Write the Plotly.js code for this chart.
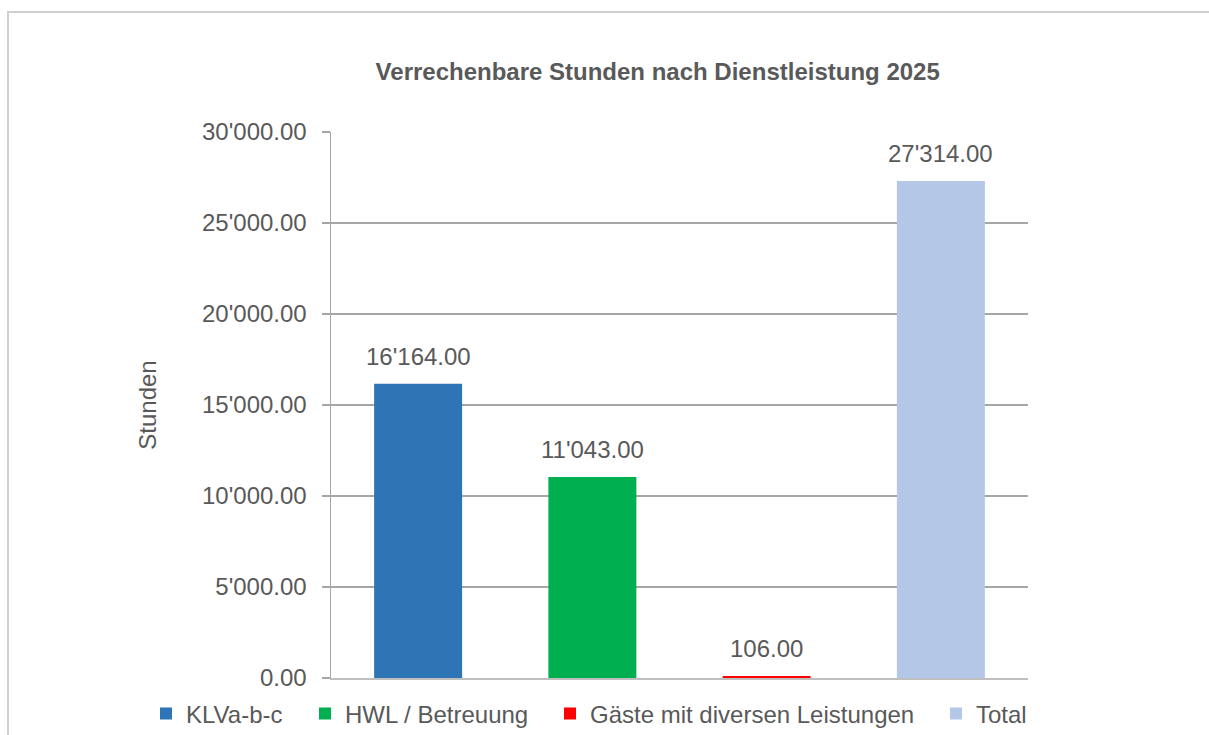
<!DOCTYPE html>
<html>
<head>
<meta charset="utf-8">
<script src="https://cdn.plot.ly/plotly-3.0.1.min.js"></script>
<style>
html,body{margin:0;padding:0;background:#fff;}
#frame{position:absolute;left:7px;top:11px;width:1202px;height:724px;border-left:2px solid #d0d0d0;border-top:2px solid #d0d0d0;box-sizing:border-box;}
#chart{position:absolute;left:0;top:0;width:1209px;height:735px;}
</style>
</head>
<body>
<div id="frame"></div>
<div id="chart"></div>
<script>
const categories = ["KLVa-b-c", "HWL / Betreuung", "Gäste mit diversen Leistungen", "Total"];
const values = [16164, 11043, 106, 27314];
const colors = ["#2E75B6", "#00B050", "#FF0000", "#B4C7E7"];
const titleText = "Verrechenbare Stunden nach Dienstleistung 2025";
const yTitle = "Stunden";

const FONT = "'Liberation Sans', Arial, sans-serif";
const GRAY = "#595959";
const legendX = [146, 305, 550, 936];   // container px of each legend box

const traces = categories.map((c, i) => ({
  type: "bar",
  name: c,
  x: [c],
  y: [values[i]],
  marker: {color: colors[i]},
  width: 0.505,
  cliponaxis: false,
  hoverinfo: "skip",
  legend: i === 0 ? "legend" : "legend" + (i + 1)
}));

const fmt = v => v.toLocaleString("de-CH", {minimumFractionDigits: 2, maximumFractionDigits: 2}).replace(/[’\u2019]/g, "'");

const annotations = categories.map((c, i) => ({
  x: c, y: values[i], xref: "x", yref: "y",
  text: fmt(values[i]),
  showarrow: false,
  xanchor: "center", yanchor: "bottom",
  yshift: 12,
  font: {family: FONT, size: 24, color: GRAY}
}));

const layout = {
  width: 1209,
  height: 735,
  margin: {l: 331, r: 181, t: 132, b: 57},
  paper_bgcolor: "rgba(0,0,0,0)",
  plot_bgcolor: "rgba(0,0,0,0)",
  separators: ".'",
  barmode: "overlay",
  showlegend: true,
  font: {family: FONT, color: GRAY},
  annotations: annotations,
  title: {
    text: "<b>" + titleText + "</b>",
    font: {family: FONT, size: 24, color: GRAY},
    x: 0.544, xanchor: "center",
    y: 0.902, yanchor: "middle", yref: "container"
  },
  xaxis: {
    type: "category",
    categoryorder: "array",
    categoryarray: categories,
    showticklabels: false,
    ticks: "",
    showgrid: false,
    showline: true,
    linecolor: "#BFBFBF",
    linewidth: 2,
    zeroline: false,
    fixedrange: true
  },
  yaxis: {
    range: [0, 30000],
    dtick: 5000,
    tick0: 0,
    tickformat: ",.2f",
    ticks: "outside",
    ticklen: 8,
    tickcolor: "#A6A6A6",
    tickwidth: 1.5,
    tickfont: {family: FONT, size: 24, color: GRAY},
    showgrid: true,
    gridcolor: "#A6A6A6",
    gridwidth: 1.3,
    showline: true,
    linecolor: "#A6A6A6",
    linewidth: 1.5,
    zeroline: false,
    ticklabelstandoff: 10,
    title: {text: yTitle, font: {family: FONT, size: 24, color: GRAY}, standoff: 38},
    fixedrange: true
  }
};

legendX.forEach((lx, i) => {
  const key = i === 0 ? "legend" : "legend" + (i + 1);
  layout[key] = {
    orientation: "h",
    x: lx / 1209, xanchor: "left", xref: "container",
    y: 21 / 735, yanchor: "middle", yref: "container",
    font: {family: FONT, size: 24, color: GRAY},
    itemwidth: 30,
    bgcolor: "rgba(0,0,0,0)",
    borderwidth: 0
  };
});

Plotly.newPlot("chart", traces, layout, {displayModeBar: false, staticPlot: true});
</script>
</body>
</html>
